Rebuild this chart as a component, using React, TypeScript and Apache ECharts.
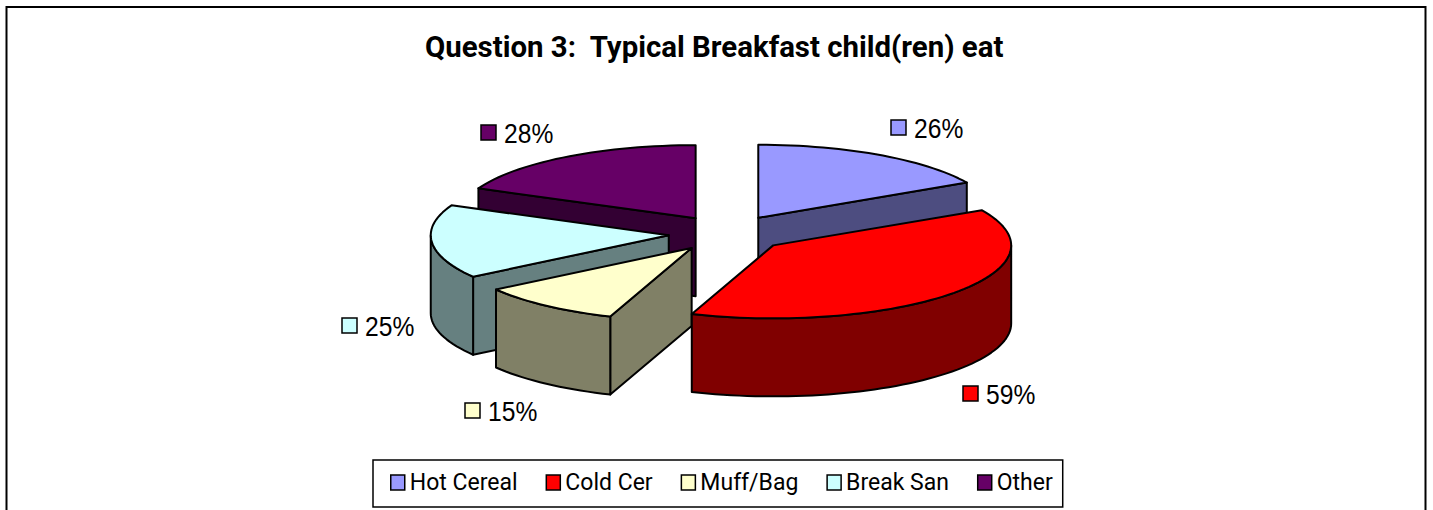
import React, { useEffect, useRef } from "react";
import * as echarts from "echarts";

const categories = ["Hot Cereal", "Cold Cer", "Muff/Bag", "Break San", "Other"];
const percentValues = [26, 59, 15, 25, 28];
const topColors = ["#9999FF", "#FF0000", "#FFFFCC", "#CCFFFF", "#660066"];
const sideColors = ["#4D4D80", "#800000", "#808066", "#668080", "#330033"];
const drawOrder = [0, 4, 3, 2, 1];
const titleText = "Question 3:  Typical Breakfast child(ren) eat";

const FONT = "Liberation Sans, Arial, sans-serif";
const COMPACT = "Roboto, Liberation Sans, Arial, sans-serif";
const CX = 728, CY = 233.5, RX = 238, RY = 73, DEPTH = 78, EXPLODE = 0.25;
const LABEL_POS: number[][] = [[891, 128], [963, 394], [465, 411], [342, 326], [481, 133]];

const total = percentValues.reduce((a, b) => a + b, 0);
const rad = (d: number) => (d * Math.PI) / 180;

function bounds(i: number) {
  let start = 0;
  for (let k = 0; k < i; k++) start += (percentValues[k] / total) * 360;
  return [start, start + (percentValues[i] / total) * 360];
}

function renderSlice(i: number) {
  const [a1, a2] = bounds(i);
  const mid = (a1 + a2) / 2;
  const ax = CX + EXPLODE * RX * Math.sin(rad(mid));
  const ay = CY - EXPLODE * RY * Math.cos(rad(mid));
  const pt = (deg: number, dz = 0) => [ax + RX * Math.sin(rad(deg)), ay - RY * Math.cos(rad(deg)) + dz];
  const arc = (from: number, to: number, dz = 0) => {
    const pts: number[][] = [];
    const n = Math.max(2, Math.ceil(Math.abs(to - from) / 2));
    for (let k = 0; k <= n; k++) pts.push(pt(from + ((to - from) * k) / n, dz));
    return pts;
  };
  const line = { stroke: "#000", lineWidth: 2, lineJoin: "round" as const };
  const poly = (points: number[][], fill: string) => ({
    type: "polygon", shape: { points }, style: { fill, ...line },
  });
  const children: any[] = [];
  const wall = (deg: number) => [[ax, ay], pt(deg), pt(deg, DEPTH), [ax, ay + DEPTH]];
  if (Math.sin(rad(a1)) < -1e-6) children.push(poly(wall(a1), sideColors[i]));
  if (Math.sin(rad(a2)) > 1e-6) children.push(poly(wall(a2), sideColors[i]));
  const f = Math.max(a1, 90), t = Math.min(a2, 270);
  if (f < t) children.push(poly([...arc(f, t), ...arc(t, f, DEPTH)], sideColors[i]));
  children.push(poly([[ax, ay], ...arc(a1, a2)], topColors[i]));
  const [lx, ly] = LABEL_POS[i];
  children.push({
    type: "rect", shape: { x: lx, y: ly - 8, width: 15, height: 15 },
    style: { fill: topColors[i], stroke: "#000", lineWidth: 1.5 },
  });
  children.push({
    type: "text", x: lx + 23, y: ly, scaleX: 0.88, scaleY: 1,
    style: { text: percentValues[i] + "%", font: `28px ${FONT}`, fill: "#000", verticalAlign: "middle", align: "left" },
  });
  return { type: "group", children };
}

export default function App() {
  const ref = useRef<HTMLDivElement>(null);
  useEffect(() => {
    document.body.style.margin = "0";
    const chart = echarts.init(ref.current!, undefined, { renderer: "svg" });
    chart.setOption({
      animation: false,
      backgroundColor: "#fff",
      title: {
        text: titleText, left: 425, top: 32,
        padding: 0,
        textStyle: { fontFamily: COMPACT, fontSize: 29.4, fontWeight: "bold", color: "#000" },
      },
      legend: {
        data: categories, left: 373, top: 460, orient: "horizontal",
        backgroundColor: "#fff", borderColor: "#000", borderWidth: 1.5, borderRadius: 0,
        padding: [11, 10, 13, 17], itemGap: 28, itemWidth: 14, itemHeight: 15, icon: "rect",
        selectedMode: false,
        textStyle: { fontFamily: COMPACT, fontSize: 23, color: "#000" },
        itemStyle: { borderColor: "#000", borderWidth: 1.5 },
      },
      graphic: [{
        type: "rect", silent: true, z: -1,
        shape: { x: 6.5, y: 7, width: 1419, height: 510 },
        style: { fill: "#fff", stroke: "#000", lineWidth: 2 },
      }],
      series: drawOrder.map((i, order) => ({
        type: "custom", name: categories[i], coordinateSystem: "none", z: 2 + order,
        itemStyle: { color: topColors[i] }, data: [percentValues[i]],
        renderItem: () => renderSlice(i),
      })),
    });
    return () => chart.dispose();
  }, []);
  return <div ref={ref} style={{ width: 1433, height: 510, position: "absolute", left: 0, top: 0 }} />;
}
